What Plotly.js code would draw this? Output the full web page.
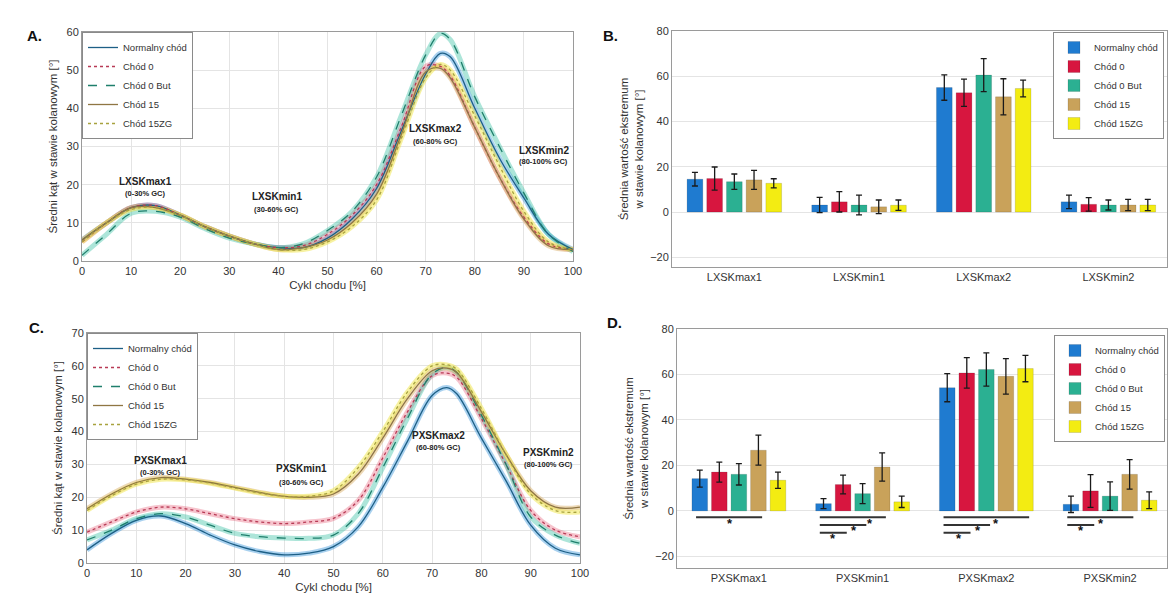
<!DOCTYPE html>
<html><head><meta charset="utf-8">
<script src="https://cdn.plot.ly/plotly-3.0.1.min.js"></script>
<style>html,body{margin:0;padding:0;background:#fff}#chart{width:1171px;height:606px}</style>
</head><body><div id="chart"></div>
<script>
// ---------- DATA ----------
const seriesNames = ["Normalny chód", "Chód 0", "Chód 0 But", "Chód 15", "Chód 15ZG"];
const xPct = [0,5,10,15,20,25,30,35,40,45,50,55,60,65,70,73,75,80,85,90,95,100];

// Panel A (LXSK curves)
const aNormalny = [5.5,10,14,14.5,12,9,6.5,4.5,3.5,3.5,6,11,19,34,49,54.4,53.5,40,27,16.5,7,3];
const aChod0    = [5,10,14,14.5,12,9,6.5,4.5,3.5,4,7,12,20,35,51,51,48.5,35,22,11.5,4.5,3];
const aChod0But = [1.5,7,12.5,13,11.5,8.5,6,4.5,3.5,4.5,8,13,22,38,54,59.6,58,43,30,17.8,7,2.5];
const aChod15   = [5.5,10,14,14,12,9,6.5,4.5,3,3.5,5.5,10,17.5,33,49.5,50.5,48,35,22,11,4,3];
const aChod15ZG = [5,10,13.5,14,12,9,6.5,4.5,3,3,5,9,16,32,48,51.5,50,38,25,13,5,3];

// Panel C (PXSK curves)
const cNormalny = [4,9,13,14.3,12,8.5,5.5,3.5,2.5,3,5,11,23,37,51,53.4,51.5,38,25,11.5,4.5,2.5];
const cChod0    = [9.4,12.5,15.5,17,16.5,15,13.5,12.5,12,12.5,13.6,19,32,46,57,57.8,56.5,44,30,16,10,8];
const cChod0But = [7,10,13.5,15,14,11.5,9,8,7.6,7.5,8.5,15,29,44,57.5,59.5,58,45,30,14,8.5,6];
const cChod15   = [16.5,21,24.5,26,25.5,24.5,23,21.5,20.3,20,21,27,38,50,58.5,59.3,58,46,33,22,17,17];
const cChod15ZG = [16,20.5,24,25.5,25.3,24.3,22.8,21.3,20.3,20.3,22,29,40,52,60,60.3,59,47,33,21,16,15.5];

// Panel B (LXSK extrema)
const bCategories = ["LXSKmax1", "LXSKmin1", "LXSKmax2", "LXSKmin2"];
const bNormalny = [14.5, 3.1, 55.0, 4.5],  bNormalnyErr = [3.0, 3.4, 5.6, 3.0];
const bChod0    = [14.8, 4.5, 52.7, 3.4],  bChod0Err    = [5.1, 4.5, 6.0, 3.0];
const bChod0But = [13.4, 3.1, 60.5, 3.1],  bChod0ButErr = [3.4, 4.4, 7.3, 2.2];
const bChod15   = [14.2, 2.3, 50.9, 3.1],  bChod15Err   = [4.2, 3.0, 8.0, 2.5];
const bChod15ZG = [12.7, 3.0, 54.6, 3.1],  bChod15ZGErr = [2.0, 2.3, 3.7, 2.5];

// Panel D (PXSK extrema)
const dCategories = ["PXSKmax1", "PXSKmin1", "PXSKmax2", "PXSKmin2"];
const dNormalny = [14.2, 3.2, 54.2, 2.9],  dNormalnyErr = [3.7, 2.2, 6.2, 3.6];
const dChod0    = [17.1, 11.6, 60.7, 8.8], dChod0Err    = [4.4, 4.1, 6.7, 7.2];
const dChod0But = [16.1, 7.6, 62.2, 6.5],  dChod0ButErr = [4.7, 4.4, 7.3, 6.3];
const dChod15   = [26.7, 19.3, 59.2, 16.1],dChod15Err   = [6.6, 6.2, 7.8, 6.5];
const dChod15ZG = [13.5, 4.0, 62.6, 4.7],  dChod15ZGErr = [3.6, 2.5, 5.8, 3.7];

// Significance marks in D: group, from bar, to bar, line level, asterisk bar position
const sigGroup = [0, 1, 1, 1, 2, 2, 2, 3, 3];
const sigFrom  = [0, 0, 0, 0, 0, 0, 0, 0, 0];
const sigTo    = [3, 3, 2, 1, 4, 2, 1, 3, 1];
const sigLevel = [-2.8, -2.8, -6.2, -9.6, -2.8, -6.2, -9.6, -2.8, -6.2];
const sigStar  = [1.55, 2.4, 1.55, 0.5, 2.5, 1.55, 0.6, 1.55, 0.5];

// ---------- STYLE ----------
const barColors  = ["#1f7bd0", "#d7163f", "#2bb092", "#c9a25a", "#f3ec12"];
const haloColors = ["rgba(40,140,215,0.40)", "rgba(225,60,90,0.30)", "rgba(50,190,160,0.40)",
                    "rgba(215,170,95,0.45)", "rgba(240,230,70,0.50)"];
const lineColors = ["#1d5f86", "#b83a55", "#1f7f6c", "#8f7643", "#a8a23e"];
const lineDash   = ["solid", "dot", "dash", "solid", "dot"];
const FONT = "Liberation Sans, Arial, sans-serif";

const aSeries = [aNormalny, aChod0, aChod0But, aChod15, aChod15ZG];
const cSeries = [cNormalny, cChod0, cChod0But, cChod15, cChod15ZG];
const bSeries = [bNormalny, bChod0, bChod0But, bChod15, bChod15ZG];
const bErrs   = [bNormalnyErr, bChod0Err, bChod0ButErr, bChod15Err, bChod15ZGErr];
const dSeries = [dNormalny, dChod0, dChod0But, dChod15, dChod15ZG];
const dErrs   = [dNormalnyErr, dChod0Err, dChod0ButErr, dChod15Err, dChod15ZGErr];

const traces = [];
function addCurves(series, xa, ya, legendId) {
  series.forEach((ys, i) => {
    traces.push({x: xPct, y: ys, xaxis: xa, yaxis: ya, type: "scatter", mode: "lines",
      line: {color: haloColors[i], width: 5, shape: "spline", smoothing: 1},
      hoverinfo: "skip", showlegend: false});
  });
  series.forEach((ys, i) => {
    traces.push({x: xPct, y: ys, xaxis: xa, yaxis: ya, type: "scatter", mode: "lines",
      name: seriesNames[i], legend: legendId,
      line: {color: lineColors[i], width: 1.3, dash: lineDash[i], shape: "spline", smoothing: 1}});
  });
}
function addBars(series, errs, cats, xa, ya, legendId) {
  series.forEach((ys, i) => {
    traces.push({x: cats, y: ys, xaxis: xa, yaxis: ya, type: "bar", name: seriesNames[i],
      legend: legendId,
      marker: {color: barColors[i], line: {color: "rgba(0,0,0,0.25)", width: 0.5}},
      error_y: {type: "data", array: errs[i], visible: true, color: "#1a1a1a", thickness: 1.3, width: 3}});
  });
}
addCurves(aSeries, "x", "y", "legend");
addBars(bSeries, bErrs, bCategories, "x2", "y2", "legend2");
addCurves(cSeries, "x3", "y3", "legend3");
addBars(dSeries, dErrs, dCategories, "x4", "y4", "legend4");

const W = 1171, H = 606;
const px = v => v / W, py = v => 1 - v / H;

const tickFont = {family: FONT, size: 11, color: "#333"};
const titleFont = {family: FONT, size: 11.5, color: "#333"};
function lineAxis(dom, extra) {
  return Object.assign({domain: dom, showline: true, mirror: true, linecolor: "#9a9a9a", linewidth: 1,
    showgrid: true, gridcolor: "#e4e4e4", zeroline: false, ticks: "", tickfont: tickFont,
    fixedrange: true}, extra);
}

const annotations = [];
function label(txt, x, y, xr, yr, size, bold) {
  annotations.push({text: bold ? "<b>" + txt + "</b>" : txt, x: x, y: y, xref: xr, yref: yr,
    showarrow: false, font: {family: FONT, size: size, color: "#222"}});
}
// panel letters
[["A.", 25, 25], ["B.", 610, 25], ["C.", 27, 327], ["D.", 615, 322]].forEach(p => {
  annotations.push({text: "<b>" + p[0] + "</b>", x: px(p[1]), y: py(p[2]), xref: "paper", yref: "paper",
    showarrow: false, font: {family: FONT, size: 15, color: "#111"}});
});
// phase labels A
label("LXSKmax1", 13, 20.7, "x", "y", 10, true);   label("(0-30% GC)", 13, 17.6, "x", "y", 7.5, true);
label("LXSKmin1", 39.7, 16.8, "x", "y", 10, true); label("(30-60% GC)", 39.7, 13.4, "x", "y", 7.5, true);
label("LXSKmax2", 71.9, 34.8, "x", "y", 10, true); label("(60-80% GC)", 71.9, 31.2, "x", "y", 7.5, true);
label("LXSKmin2", 94, 29, "x", "y", 10, true);     label("(80-100% GC)", 94, 26, "x", "y", 7.5, true);
// phase labels C
label("PXSKmax1", 15, 31.1, "x3", "y3", 10, true);   label("(0-30% GC)", 15, 27.6, "x3", "y3", 7.5, true);
label("PXSKmin1", 43.6, 28.9, "x3", "y3", 10, true); label("(30-60% GC)", 43.6, 24.6, "x3", "y3", 7.5, true);
label("PXSKmax2", 71.2, 38.9, "x3", "y3", 10, true); label("(60-80% GC)", 71.2, 35.2, "x3", "y3", 7.5, true);
label("PXSKmin2", 93.7, 33.5, "x3", "y3", 10, true); label("(80-100% GC)", 93.7, 30, "x3", "y3", 7.5, true);

// significance lines in D
const BARGAP = 0.21, NB = 5;
const slot = (1 - BARGAP) / NB;
const barX = (g, i) => g + (i - (NB - 1) / 2) * slot;
const shapes = [];
sigGroup.forEach((g, k) => {
  shapes.push({type: "line", xref: "x4", yref: "y4", x0: barX(g, sigFrom[k]) - 0.03, x1: barX(g, sigTo[k]) + 0.03,
    y0: sigLevel[k], y1: sigLevel[k], line: {color: "#333", width: 2}});
  annotations.push({text: "<b>*</b>", x: barX(g, sigStar[k]), y: sigLevel[k] - 2.6, xref: "x4", yref: "y4",
    showarrow: false, font: {family: FONT, size: 13, color: "#111"}});
});

function legendBox(x, y, xanchor) {
  return {x: x, y: y, xref: "paper", yref: "paper", xanchor: xanchor, yanchor: "top",
    bgcolor: "#fff", bordercolor: "#8a8a8a", borderwidth: 1, itemwidth: 30,
    font: {family: FONT, size: 9.5, color: "#333"}, tracegroupgap: 0};
}

const layout = {
  width: W, height: H, margin: {l: 0, r: 0, t: 0, b: 0},
  paper_bgcolor: "#fff", plot_bgcolor: "#fff", showlegend: true,
  barmode: "group", bargap: BARGAP, bargroupgap: 0.2,
  font: {family: FONT},
  xaxis: lineAxis([px(82), px(573)], {anchor: "y", range: [0, 100], dtick: 10,
    title: {text: "Cykl chodu [%]", font: titleFont, standoff: 4}}),
  yaxis: lineAxis([py(261), py(32)], {anchor: "x", range: [0, 60], dtick: 10,
    title: {text: "Średni kąt w stawie kolanowym [°]", font: titleFont, standoff: 6}}),
  xaxis3: lineAxis([px(87), px(580)], {anchor: "y3", range: [0, 100], dtick: 10,
    title: {text: "Cykl chodu [%]", font: titleFont, standoff: 4}}),
  yaxis3: lineAxis([py(563), py(333)], {anchor: "x3", range: [0, 70], dtick: 10,
    title: {text: "Średni kąt w stawie kolanowym [°]", font: titleFont, standoff: 6}}),
  xaxis2: lineAxis([px(672), px(1167)], {anchor: "y2", type: "category", range: [-0.5, 3.47], showgrid: false}),
  yaxis2: lineAxis([py(267), py(31)], {anchor: "x2", range: [-24.3, 80], tickvals: [-20, 0, 20, 40, 60, 80],
    title: {text: "Średnia wartość ekstremum<br>w stawie kolanowym [°]", font: titleFont, standoff: 4}}),
  xaxis4: lineAxis([px(677), px(1167)], {anchor: "y4", type: "category", range: [-0.5, 3.46], showgrid: false}),
  yaxis4: lineAxis([py(568), py(329)], {anchor: "x4", range: [-25.1, 80], tickvals: [-20, 0, 20, 40, 60, 80],
    title: {text: "Średnia wartość ekstremum<br>w stawie kolanowym [°]", font: titleFont, standoff: 4}}),
  legend: legendBox(px(82), py(32), "left"),
  legend2: legendBox(px(1164), py(32), "right"),
  legend3: legendBox(px(87), py(333), "left"),
  legend4: legendBox(px(1165), py(335), "right"),
  annotations: annotations,
  shapes: shapes
};

Plotly.newPlot("chart", traces, layout, {staticPlot: true, displayModeBar: false});
</script>
</body></html>
